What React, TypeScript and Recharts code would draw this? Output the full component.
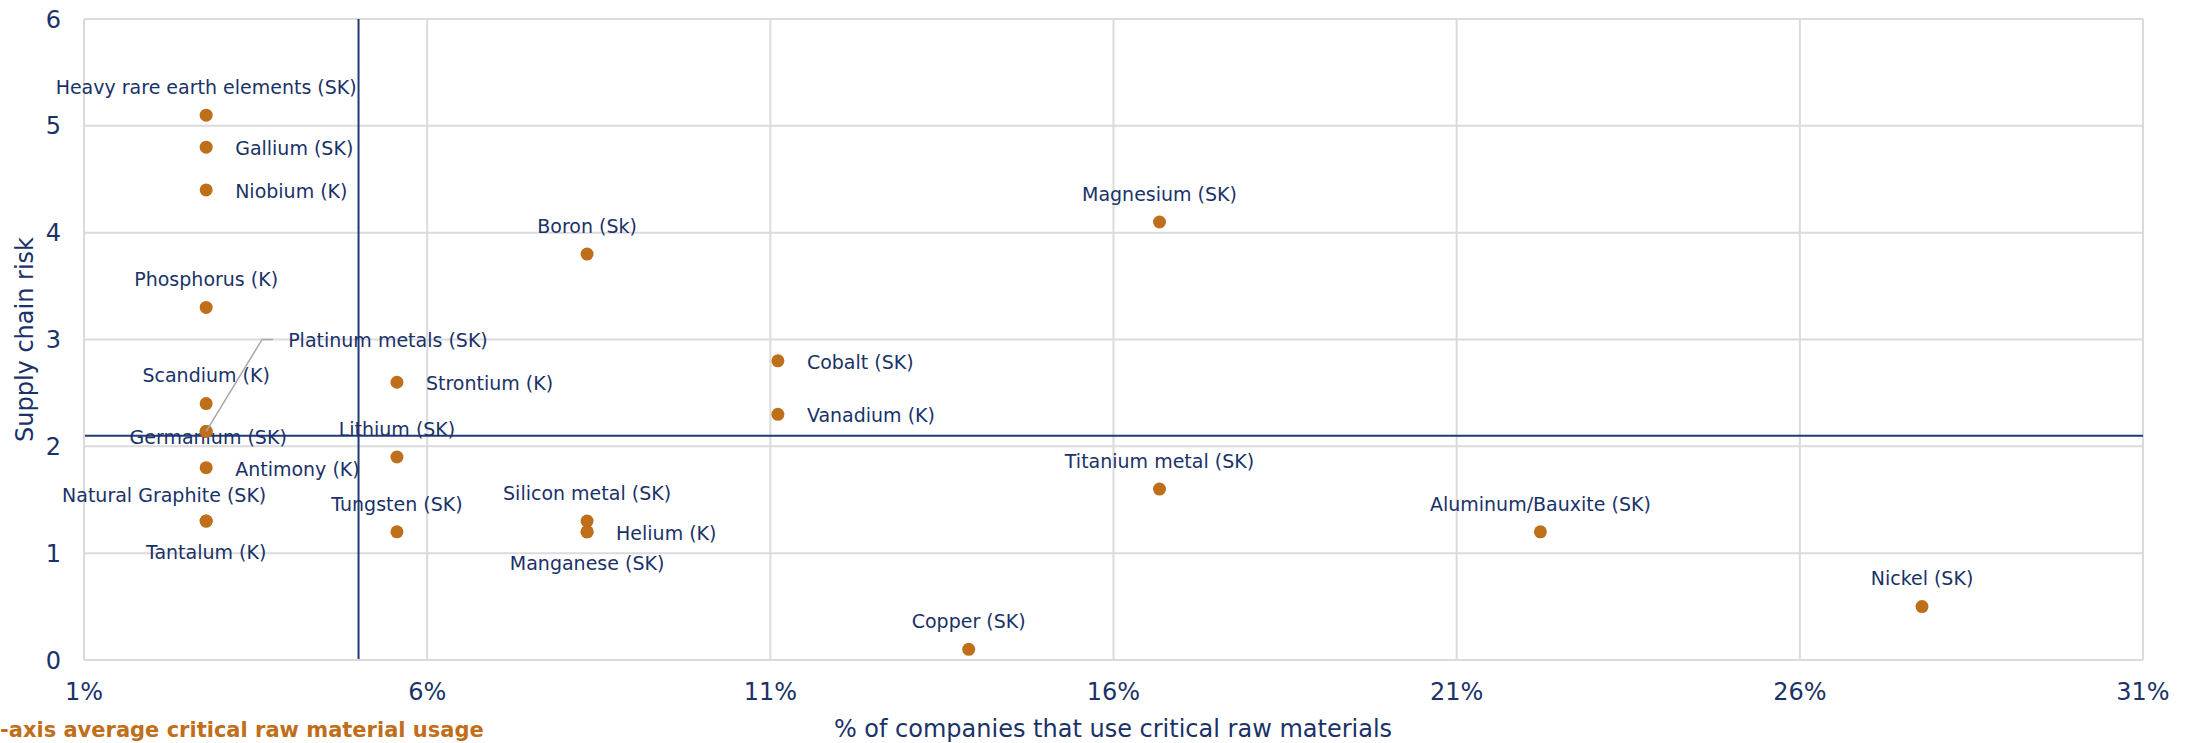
import React from 'react';
import {
  ScatterChart,
  Scatter,
  XAxis,
  YAxis,
  CartesianGrid,
  ReferenceLine,
} from 'recharts';

// ---------- data ----------
const materials = [
  'Heavy rare earth elements (SK)',
  'Gallium (SK)',
  'Niobium (K)',
  'Phosphorus (K)',
  'Scandium (K)',
  'Germanium (SK)',
  'Platinum metals (SK)',
  'Antimony (K)',
  'Natural Graphite (SK)',
  'Tantalum (K)',
  'Strontium (K)',
  'Lithium (SK)',
  'Tungsten (SK)',
  'Boron (Sk)',
  'Silicon metal (SK)',
  'Helium (K)',
  'Manganese (SK)',
  'Cobalt (SK)',
  'Vanadium (K)',
  'Copper (SK)',
  'Magnesium (SK)',
  'Titanium metal (SK)',
  'Aluminum/Bauxite (SK)',
  'Nickel (SK)',
];

// % of companies that use the material
const usageShare = [
  2.78, 2.78, 2.78, 2.78, 2.78, 2.78, 2.78, 2.78, 2.78, 2.78,
  5.56, 5.56, 5.56,
  8.33, 8.33, 8.33, 8.33,
  11.11, 11.11,
  13.89,
  16.67, 16.67,
  22.22,
  27.78,
];

// supply chain risk
const supplyRisk = [
  5.1, 4.8, 4.4, 3.3, 2.4, 2.14, 2.14, 1.8, 1.3, 1.3,
  2.6, 1.9, 1.2,
  3.8, 1.3, 1.2, 1.2,
  2.8, 2.3,
  0.1,
  4.1, 1.6,
  1.2,
  0.5,
];

const xTicks = [1, 6, 11, 16, 21, 26, 31];
const yTicks = [0, 1, 2, 3, 4, 5, 6];

const avgUsage = 5.0; // x-axis average critical raw material usage
const avgRisk = 2.1;

const xTitle = '% of companies that use critical raw materials';
const yTitle = 'Supply chain risk';
// the reference shows this legend text cut at the left page edge
const avgLegend = '-axis average critical raw material usage';

// label placement (style, not data)
const labelPlacement: Record<string, { pos: string; dx?: number; dy?: number }> = {
  'Heavy rare earth elements (SK)': { pos: 'top' },
  'Gallium (SK)': { pos: 'right' },
  'Niobium (K)': { pos: 'right' },
  'Phosphorus (K)': { pos: 'top' },
  'Scandium (K)': { pos: 'top' },
  'Germanium (SK)': { pos: 'center', dy: 6 },
  'Platinum metals (SK)': { pos: 'leader' },
  'Antimony (K)': { pos: 'right' },
  'Natural Graphite (SK)': { pos: 'top', dx: -42, dy: 2 },
  'Tantalum (K)': { pos: 'bottom' },
  'Strontium (K)': { pos: 'right' },
  'Lithium (SK)': { pos: 'top' },
  'Tungsten (SK)': { pos: 'top' },
  'Boron (Sk)': { pos: 'top' },
  'Silicon metal (SK)': { pos: 'top' },
  'Helium (K)': { pos: 'right' },
  'Manganese (SK)': { pos: 'bottom' },
  'Cobalt (SK)': { pos: 'right' },
  'Vanadium (K)': { pos: 'right' },
  'Copper (SK)': { pos: 'top' },
  'Magnesium (SK)': { pos: 'top' },
  'Titanium metal (SK)': { pos: 'top' },
  'Aluminum/Bauxite (SK)': { pos: 'top' },
  'Nickel (SK)': { pos: 'top' },
};

const chartData = materials.map((name, i) => ({
  name,
  x: usageShare[i],
  y: supplyRisk[i],
}));

// ---------- style ----------
const FONT = '"DejaVu Sans", Verdana, sans-serif';
const NAVY = '#1A3268';
const LINE_NAVY = '#1F3A75';
const ORANGE = '#BF6E1A';
const GRID = '#DCDADB';
const LABEL_SIZE = 19;

const renderPoint = (props: any) => {
  const { cx, cy, payload } = props;
  if (cx == null || cy == null) return <g />;
  const place = labelPlacement[payload.name] || { pos: 'top' };
  const dx = place.dx || 0;
  const dy = place.dy || 0;
  let label: React.ReactNode = null;
  const common = {
    fontFamily: FONT,
    fontSize: LABEL_SIZE,
    fill: NAVY,
  };
  if (place.pos === 'top') {
    label = (
      <text x={cx + dx} y={cy - 28 + dy} dy="0.36em" textAnchor="middle" {...common}>
        {payload.name}
      </text>
    );
  } else if (place.pos === 'right') {
    label = (
      <text x={cx + 29 + dx} y={cy + 1 + dy} dy="0.36em" textAnchor="start" {...common}>
        {payload.name}
      </text>
    );
  } else if (place.pos === 'bottom') {
    label = (
      <text x={cx + dx} y={cy + 31 + dy} dy="0.36em" textAnchor="middle" {...common}>
        {payload.name}
      </text>
    );
  } else if (place.pos === 'center') {
    label = (
      <text x={cx + 2 + dx} y={cy + dy} dy="0.36em" textAnchor="middle" {...common}>
        {payload.name}
      </text>
    );
  } else if (place.pos === 'leader') {
    label = (
      <g>
        <polyline
          points={`${cx},${cy} ${cx + 56},${cy - 92} ${cx + 67},${cy - 92}`}
          fill="none"
          stroke="#ABA7A8"
          strokeWidth={1.5}
        />
        <text x={cx + 82} y={cy - 91} dy="0.36em" textAnchor="start" {...common}>
          {payload.name}
        </text>
      </g>
    );
  }
  return (
    <g>
      <circle cx={cx} cy={cy} r={6.5} fill={ORANGE} />
      {label}
    </g>
  );
};

export default function App() {
  return (
    <div
      style={{
        position: 'absolute',
        left: 0,
        top: 0,
        width: 2195,
        height: 743,
        overflow: 'hidden',
        background: '#ffffff',
      }}
    >
      <ScatterChart
        width={2195}
        height={743}
        margin={{ top: 19, right: 52, bottom: 43, left: 24 }}
      >
        <CartesianGrid stroke={GRID} strokeWidth={2} />
        <XAxis
          type="number"
          dataKey="x"
          domain={[1, 31]}
          ticks={xTicks}
          interval={0}
          tickFormatter={(v: number) => `${v}%`}
          height={40}
          axisLine={{ stroke: GRID, strokeWidth: 2 }}
          tickLine={false}
          tickSize={0}
          tickMargin={23}
          tick={{ fontFamily: FONT, fontSize: 24, fill: NAVY }}
        />
        <YAxis
          type="number"
          dataKey="y"
          domain={[0, 6]}
          ticks={yTicks}
          interval={0}
          width={60}
          axisLine={{ stroke: GRID, strokeWidth: 2 }}
          tickLine={false}
          tickSize={0}
          tickMargin={23}
          tick={{ fontFamily: FONT, fontSize: 24, fill: NAVY }}
        />
        <Scatter
          data={chartData}
          shape={renderPoint}
          isAnimationActive={false}
        />
        <ReferenceLine x={avgUsage} stroke={LINE_NAVY} strokeWidth={2} />
        <ReferenceLine y={avgRisk} stroke={LINE_NAVY} strokeWidth={2} />
      </ScatterChart>
      <svg
        width={2195}
        height={743}
        style={{ position: 'absolute', left: 0, top: 0, pointerEvents: 'none' }}
      >
        <text
          x={1113}
          y={737}
          textAnchor="middle"
          fontFamily={FONT}
          fontSize={24}
          fill={NAVY}
        >
          {xTitle}
        </text>
        <text
          x={33}
          y={339.5}
          textAnchor="middle"
          fontFamily={FONT}
          fontSize={24}
          fill={NAVY}
          transform="rotate(-90, 33, 339.5)"
        >
          {yTitle}
        </text>
        <text
          x={0}
          y={737}
          textAnchor="start"
          fontFamily={FONT}
          fontSize={21}
          fontWeight="bold"
          fill={ORANGE}
        >
          {avgLegend}
        </text>
      </svg>
    </div>
  );
}
